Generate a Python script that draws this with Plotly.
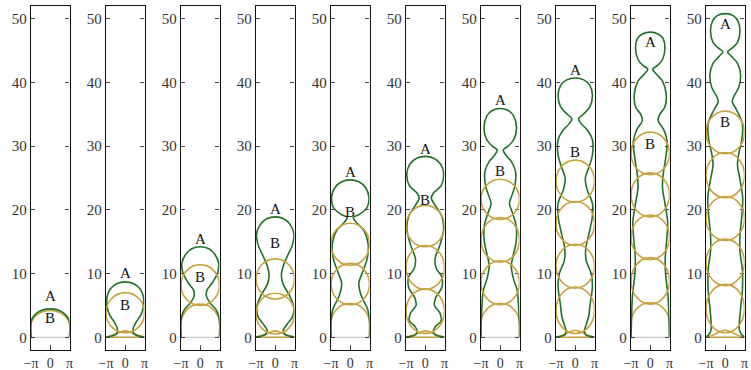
import math
import plotly.graph_objects as go

PI = math.pi

# ---- data (right half profiles, mirrored about x = 0) ----
# Green curve "A": right-half profile per panel, from top (x=0) downwards
A_X = [
    [0, 1.2, 2.2, 2.85, 3.14, 3.14],
    [0, 1.4, 2.4, 2.95, 3.0, 2.6, 1.8, 1.3, 1.4, 2.2, 3.14],
    [0, 1.4, 2.4, 3.0, 2.8, 2.0, 1.1, 1.0, 1.6, 2.6, 3.1, 3.14],
    [0, 1.4, 2.5, 3.05, 2.8, 2.0, 1.3, 1.0, 1.3, 2.3, 3.0, 2.8, 1.9, 1.3, 1.6, 2.4, 3.14],
    [0, 1.4, 2.5, 3.05, 2.7, 1.5, 0.5, 1.0, 2.2, 2.9, 2.8, 2.0, 1.4, 1.8, 2.8, 3.14, 3.14],
    [0, 1.4, 2.5, 3.0, 2.6, 1.3, 1.0, 1.7, 2.7, 3.0, 2.4, 1.6, 1.8, 2.7, 2.7, 1.7, 1.5, 2.4, 2.6, 1.6, 1.3, 1.7, 2.5, 3.14],
    [0, 1.3, 2.2, 2.65, 2.3, 1.3, 0.5, 0.9, 1.8, 2.5, 2.4, 1.8, 1.5, 2.0, 2.6, 2.6, 2.1, 1.8, 2.1, 2.8, 3.0, 3.14, 3.14],
    [0, 1.4, 2.4, 2.8, 2.4, 1.3, 0.55, 1.0, 2.0, 2.8, 2.8, 2.2, 1.65, 1.9, 2.8, 2.8, 2.3, 1.7, 1.8, 2.6, 2.8, 2.4, 2.2, 1.8, 1.5, 1.7, 2.5, 3.14],
    [0, 1.3, 2.1, 2.4, 2.0, 1.1, 0.4, 1.0, 2.0, 2.6, 2.4, 1.5, 1.3, 2.2, 2.75, 2.5, 2.1, 2.0, 2.4, 2.85, 2.7, 2.45, 2.5, 2.9, 3.05, 3.14],
    [0, 1.3, 2.1, 2.4, 2.0, 1.0, 0.4, 1.0, 2.0, 2.5, 2.2, 1.4, 1.15, 1.9, 2.8, 2.7, 2.2, 2.0, 2.4, 2.85, 2.7, 2.4, 2.4, 2.8, 2.8, 2.5, 2.3, 2.3, 2.7, 3.14],
]
A_Y = [
    [4.45, 4.3, 3.8, 3.1, 2.4, 0],
    [8.7, 8.4, 7.6, 6.4, 5.0, 3.6, 2.4, 1.4, 0.6, 0.2, 0.05],
    [14.2, 13.9, 13.0, 11.6, 10.0, 8.6, 7.4, 6.5, 5.4, 4.3, 3.0, 0],
    [18.9, 18.6, 17.6, 16.2, 14.5, 12.8, 11.2, 9.8, 8.3, 6.6, 4.8, 3.2, 2.0, 1.0, 0.4, 0.15, 0.05],
    [24.7, 24.4, 23.5, 22.0, 20.3, 19.3, 18.8, 18.0, 16.8, 14.8, 12.5, 10.2, 8.5, 6.5, 4.5, 2.8, 0],
    [28.4, 28.1, 27.2, 25.7, 23.8, 22.6, 21.8, 20.6, 19.0, 17.0, 14.5, 12.3, 10.8, 9.5, 7.8, 6.2, 5.0, 3.8, 2.6, 1.6, 0.9, 0.35, 0.12, 0.05],
    [35.9, 35.6, 34.7, 33.0, 31.2, 30.0, 29.4, 28.6, 27.6, 26.0, 23.8, 22.0, 21.0, 19.5, 17.5, 15.0, 12.8, 11.2, 9.4, 7.2, 4.5, 2.0, 0],
    [40.7, 40.4, 39.5, 38.0, 36.2, 35.0, 34.3, 33.5, 32.5, 31.0, 28.6, 26.6, 25.0, 23.3, 21.0, 19.0, 16.5, 13.8, 12.0, 10.0, 8.0, 5.0, 3.3, 2.0, 1.1, 0.4, 0.12, 0.05],
    [47.9, 47.6, 46.9, 45.4, 43.6, 42.6, 42.1, 41.3, 40.2, 38.2, 36.2, 34.9, 34.0, 32.6, 30.8, 28.0, 25.5, 23.5, 21.0, 18.0, 15.5, 12.5, 10.0, 6.5, 3.0, 0],
    [50.8, 50.5, 49.6, 48.0, 46.3, 45.3, 44.8, 44.1, 43.0, 41.2, 39.2, 37.8, 37.0, 35.6, 33.5, 31.0, 28.8, 27.0, 24.8, 21.8, 19.0, 16.0, 13.5, 10.5, 7.5, 4.5, 2.2, 1.2, 0.4, 0.05],
]

# Gold curve "B": full lobes (bottom, top) per panel
B_LOBE_BOTTOM = [
    [], [0.7], [5.0], [0.5, 6.0], [5.1, 11.3], [0.6, 7.5, 14.2],
    [5.1, 11.8, 18.5], [0.6, 7.7, 14.4, 21.2], [5.2, 12.2, 18.9, 25.5],
    [0.7, 8.1, 15.2, 21.9, 28.8],
]
B_LOBE_TOP = [
    [], [7.0], [11.4], [6.9, 12.3], [11.6, 17.9], [7.6, 14.4, 20.7],
    [12.0, 18.8, 24.8], [7.9, 14.6, 21.3, 27.8], [12.5, 19.2, 25.8, 32.2],
    [8.3, 15.4, 22.1, 29.0, 35.5],
]
# Gold bottom arch (odd panels) / flat foot (even panels): right-half profiles
B_BASE_X = [
    [0, 1.2, 2.2, 2.85, 3.14, 3.14],
    [0, 0.8, 1.8, 2.6, 3.14],
    [0, 1.2, 2.2, 2.9, 3.14, 3.14],
    [0, 0.8, 1.8, 2.6, 3.14],
    [0, 1.2, 2.2, 2.9, 3.14, 3.14],
    [0, 0.8, 1.8, 2.6, 3.14],
    [0, 1.2, 2.2, 2.9, 3.14, 3.14],
    [0, 0.8, 1.8, 2.6, 3.14],
    [0, 1.2, 2.2, 2.9, 3.14, 3.14],
    [0, 0.8, 1.8, 2.6, 3.14],
]
B_BASE_Y = [
    [4.2, 4.0, 3.5, 2.8, 2.1, 0],
    [1.0, 0.8, 0.4, 0.15, 0.03],
    [5.2, 5.0, 4.3, 3.3, 2.3, 0],
    [1.0, 0.8, 0.4, 0.15, 0.03],
    [5.3, 5.1, 4.4, 3.4, 2.4, 0],
    [1.0, 0.8, 0.4, 0.15, 0.03],
    [5.3, 5.1, 4.4, 3.4, 2.4, 0],
    [1.1, 0.9, 0.45, 0.15, 0.03],
    [5.4, 5.2, 4.5, 3.5, 2.5, 0],
    [1.1, 0.9, 0.45, 0.15, 0.03],
]
HAS_FLAT = [False, True, False, True, False, True, False, True, False, True]

A_LABEL_Y = [6.4, 10.1, 15.5, 20.1, 25.9, 29.6, 37.3, 42.0, 46.4, 49.2]
B_LABEL_Y = [3.0, 5.1, 9.5, 14.8, 19.6, 21.5, 26.1, 29.1, 30.4, 33.8]

Y_TICKS = [0, 10, 20, 30, 40, 50]
X_TICKS = [-PI, 0, PI]
X_TICK_TEXT = ["\u2212\u03c0", "0", "\u03c0"]

GREEN = "#22702a"
GOLD = "#c9a23e"
GREY = "#c0c0c0"
FONT = "Liberation Serif"

W, H = 751, 370
LEFT0, PITCH, PW = 31, 75, 38.5

fig = go.Figure()


def mirror(xs, ys):
    fx = [-x for x in reversed(xs)] + list(xs[1:])
    fy = list(reversed(ys)) + list(ys[1:])
    return fx, fy


for i in range(10):
    ax = "" if i == 0 else str(i + 1)
    xr, yr = "x" + ax, "y" + ax
    # grey baseline
    fig.add_trace(go.Scatter(x=[-PI, PI], y=[0, 0], mode="lines", xaxis=xr, yaxis=yr,
                             line=dict(color=GREY, width=1), hoverinfo="skip"))
    # gold base
    if HAS_FLAT[i]:
        fig.add_trace(go.Scatter(x=[-PI, PI], y=[0, 0], mode="lines", xaxis=xr, yaxis=yr,
                                 line=dict(color=GOLD, width=1.6), hoverinfo="skip"))
    bx, by = mirror(B_BASE_X[i], B_BASE_Y[i])
    fig.add_trace(go.Scatter(x=bx, y=by, mode="lines", xaxis=xr, yaxis=yr,
                             line=dict(color=GOLD, width=1.6, shape="spline", smoothing=1.0),
                             hoverinfo="skip"))
    # gold lobes
    for b0, b1 in zip(B_LOBE_BOTTOM[i], B_LOBE_TOP[i]):
        fig.add_shape(type="circle", xref=xr, yref=yr, x0=-PI, x1=PI, y0=b0, y1=b1,
                      line=dict(color=GOLD, width=1.6), layer="above")
    # green
    gx, gy = mirror(A_X[i], A_Y[i])
    fig.add_trace(go.Scatter(x=gx, y=gy, mode="lines", xaxis=xr, yaxis=yr,
                             line=dict(color=GREEN, width=1.6, shape="spline", smoothing=1.0),
                             hoverinfo="skip"))
    # labels
    fig.add_annotation(x=0, y=A_LABEL_Y[i], xref=xr, yref=yr, text="A", showarrow=False,
                       font=dict(family=FONT, size=15, color="#111"))
    fig.add_annotation(x=0, y=B_LABEL_Y[i], xref=xr, yref=yr, text="B", showarrow=False,
                       font=dict(family=FONT, size=15, color="#111"))

    left = LEFT0 + PITCH * i
    xa = dict(domain=[left / W, (left + PW) / W], range=[-PI, PI], anchor=yr,
              tickvals=X_TICKS, ticktext=X_TICK_TEXT, ticks="inside", ticklen=5,
              tickcolor="#444", showline=True, linecolor="#111", linewidth=1.3, mirror=True,
              showgrid=False, zeroline=False, tickangle=0, automargin=False,
              tickfont=dict(family=FONT, size=14, color="#333"))
    ya = dict(domain=[0, 1], range=[-2, 52], anchor=xr, tickvals=Y_TICKS, ticks="inside",
              ticklen=4, tickcolor="#444", showline=True, linecolor="#111", linewidth=1.3,
              mirror="allticks", showgrid=False, zeroline=False, automargin=False,
              tickfont=dict(family=FONT, size=15, color="#333"))
    fig.layout["xaxis" + ax] = xa
    fig.layout["yaxis" + ax] = ya

fig.update_layout(template="none", width=W, height=H, showlegend=False, plot_bgcolor="white",
                  paper_bgcolor="white", margin=dict(l=0, r=0, t=6, b=20, autoexpand=False))
fig.write_html("out.html", config={"displayModeBar": False},
               post_script="document.body.style.margin='0px';document.body.style.padding='0px';")
